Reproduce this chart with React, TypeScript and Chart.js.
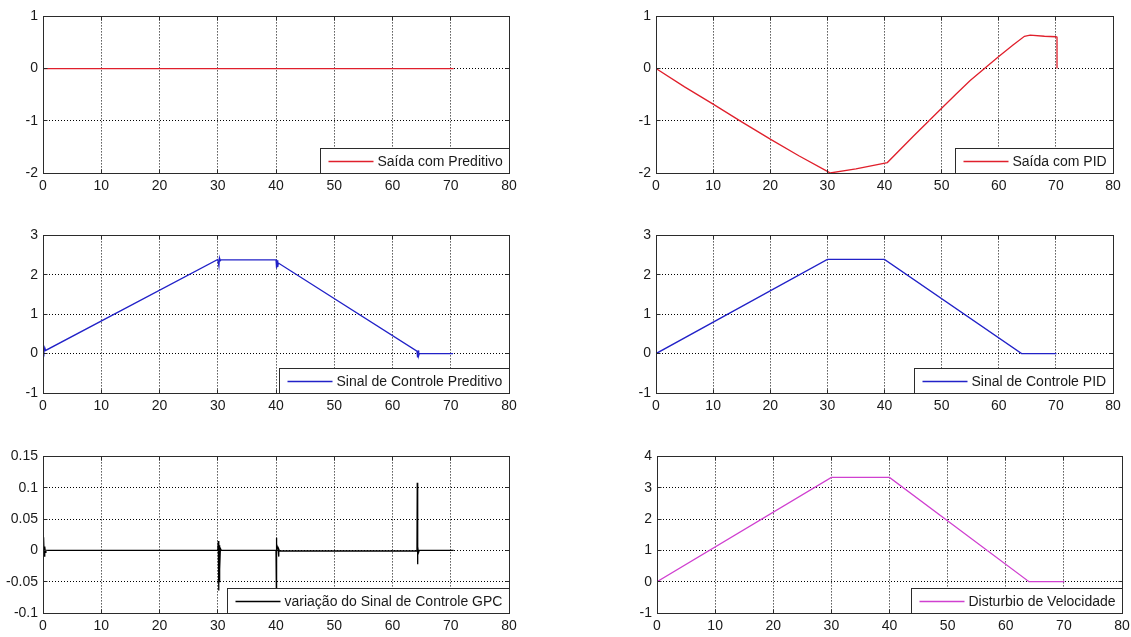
import React, { useEffect, useRef } from "react";
import { Chart, registerables } from "chart.js";

Chart.register(...registerables);

// ---------- tick labels ----------
const xTicks = [0, 10, 20, 30, 40, 50, 60, 70, 80];
const xTickLabels = ["0", "10", "20", "30", "40", "50", "60", "70", "80"];
const yTicksOut = [-2, -1, 0, 1];
const yTicksOutLabels = ["-2", "-1", "0", "1"];
const yTicksCtrl = [-1, 0, 1, 2, 3];
const yTicksCtrlLabels = ["-1", "0", "1", "2", "3"];
const yTicksGpc = [-0.1, -0.05, 0, 0.05, 0.1, 0.15];
const yTicksGpcLabels = ["-0.1", "-0.05", "0", "0.05", "0.1", "0.15"];
const yTicksDist = [-1, 0, 1, 2, 3, 4];
const yTicksDistLabels = ["-1", "0", "1", "2", "3", "4"];

// ---------- series ----------
const saidaPredT = [0, 70.5];
const saidaPredY = [0, 0];

const saidaPidT = [0, 5, 10, 15, 20, 25, 30, 30.5, 35, 40.5, 45, 50, 52.5, 55, 57.5, 60, 62.5, 64.5, 65.5, 68, 70, 70.2, 70.2];
const saidaPidY = [0, -0.35, -0.68, -1.02, -1.35, -1.67, -1.97, -2.0, -1.92, -1.8, -1.3, -0.76, -0.49, -0.23, 0.0, 0.23, 0.45, 0.62, 0.64, 0.62, 0.61, 0.6, 0];

const ctrlPredT = [0, 0.15, 0.3, 0.45, 30, 30.2, 30.3, 30.45, 30.6, 40, 40.1, 40.2, 40.3, 40.4, 64.2, 64.3, 64.4, 64.5, 64.6, 70.4];
const ctrlPredY = [0.1, 0.02, 0.15, 0.08, 2.39, 2.22, 2.43, 2.36, 2.38, 2.38, 2.17, 2.37, 2.2, 2.3, 0.06, -0.1, 0.08, -0.05, 0, 0];

const ctrlPidT = [0, 30, 40, 64, 70.1];
const ctrlPidY = [0, 2.39, 2.39, 0, 0];

const gpcT = [0, 0.1, 0.2, 0.3, 0.4, 0.5, 30, 30.1, 30.15, 30.2, 30.25, 30.3, 30.35, 30.45, 30.6, 40, 40.05, 40.1, 40.15, 40.4, 40.45, 40.5, 40.6, 64.2, 64.25, 64.3, 64.35, 64.45, 64.6, 70.5];
const gpcY = [0, 0.021, -0.009, 0.006, -0.003, 0, 0, 0.015, -0.064, 0.012, -0.05, 0.008, -0.03, 0.003, 0, 0, 0.02, -0.105, 0.01, 0, -0.01, 0.002, -0.001, -0.001, 0.108, -0.022, 0.006, -0.004, 0, 0];

const distT = [0, 30, 40, 64, 70.1];
const distY = [0, 3.33, 3.33, 0, 0];

// ---------- panels (layout) ----------
const FONT = '"Liberation Sans", Arial, Helvetica, sans-serif';
const Y_AXIS_W = 43;
const X_AXIS_H = 28;
const PAD_TOP = 12;
const PAD_RIGHT = 20;

const panels = [
  { L: 43, T: 15, R: 509, B: 173, t: saidaPredT, y: saidaPredY, color: "#e0202c", label: "Saída com Preditivo", yMin: -2, yMax: 1, yt: yTicksOut, ytl: yTicksOutLabels },
  { L: 656, T: 15, R: 1113, B: 173, t: saidaPidT, y: saidaPidY, color: "#e0202c", label: "Saída com PID", yMin: -2, yMax: 1, yt: yTicksOut, ytl: yTicksOutLabels },
  { L: 43, T: 234, R: 509, B: 393, t: ctrlPredT, y: ctrlPredY, color: "#2222c8", label: "Sinal de Controle Preditivo", yMin: -1, yMax: 3, yt: yTicksCtrl, ytl: yTicksCtrlLabels },
  { L: 656, T: 234, R: 1113, B: 393, t: ctrlPidT, y: ctrlPidY, color: "#2222c8", label: "Sinal de Controle PID", yMin: -1, yMax: 3, yt: yTicksCtrl, ytl: yTicksCtrlLabels },
  { L: 43, T: 455, R: 509, B: 613, t: gpcT, y: gpcY, color: "#000000", label: "variação do Sinal de Controle GPC", yMin: -0.1, yMax: 0.15, yt: yTicksGpc, ytl: yTicksGpcLabels },
  { L: 657, T: 455, R: 1122, B: 613, t: distT, y: distY, color: "#d040d0", label: "Disturbio de Velocidade", yMin: -1, yMax: 4, yt: yTicksDist, ytl: yTicksDistLabels },
];

const align = (p: number) => Math.round(p - 0.5) + 0.5;

const boxPlugin = {
  id: "boxLegend",
  afterDraw(chart: any, _args: any, opts: any) {
    const { ctx, chartArea: a } = chart;
    const xs = chart.scales.x;
    const ys = chart.scales.y;
    const l = align(a.left), t = align(a.top), r = align(a.right), b = align(a.bottom);
    ctx.save();
    ctx.setLineDash([]);
    ctx.strokeStyle = "#2b2b2b";
    ctx.lineWidth = 1;
    ctx.strokeRect(l, t, r - l, b - t);
    // inward tick marks
    const tl = 4;
    ctx.beginPath();
    xs.ticks.forEach((tk: any) => {
      const px = align(xs.getPixelForValue(tk.value));
      ctx.moveTo(px, b); ctx.lineTo(px, b - tl);
      ctx.moveTo(px, t); ctx.lineTo(px, t + tl);
    });
    ys.ticks.forEach((tk: any) => {
      const py = align(ys.getPixelForValue(tk.value));
      ctx.moveTo(l, py); ctx.lineTo(l + tl, py);
      ctx.moveTo(r, py); ctx.lineTo(r - tl, py);
    });
    ctx.stroke();
    // legend box in bottom-right corner
    ctx.font = "14px " + FONT;
    const tw = ctx.measureText(opts.text).width;
    const bw = Math.round(57 + tw + 7);
    const bh = 25;
    const bx = r - bw;
    const by = b - bh;
    ctx.fillStyle = "#ffffff";
    ctx.fillRect(bx, by, bw, bh);
    ctx.strokeRect(bx, by, bw, bh);
    const my = Math.round(by + bh / 2) + 0.5;
    ctx.strokeStyle = opts.color;
    ctx.lineWidth = 1.3;
    ctx.beginPath();
    ctx.moveTo(bx + 8, my);
    ctx.lineTo(bx + 53, my);
    ctx.stroke();
    ctx.fillStyle = "#1a1a1a";
    ctx.textBaseline = "middle";
    ctx.textAlign = "left";
    ctx.fillText(opts.text, bx + 57, by + bh / 2 + 1);
    ctx.restore();
  },
};

function makeConfig(p: any): any {
  const tickFont = { family: FONT, size: 14 };
  return {
    type: "line",
    data: {
      datasets: [
        {
          data: p.t.map((x: number, i: number) => ({ x, y: p.y[i] })),
          borderColor: p.color,
          borderWidth: 1.3,
          pointRadius: 0,
          tension: 0,
          fill: false,
        },
      ],
    },
    options: {
      animation: false,
      responsive: false,
      devicePixelRatio: 1,
      events: [],
      layout: { padding: { left: 0, top: PAD_TOP, right: PAD_RIGHT, bottom: 0 } },
      plugins: {
        legend: { display: false },
        tooltip: { enabled: false },
        boxLegend: { text: p.label, color: p.color },
      },
      scales: {
        x: {
          type: "linear",
          min: 0,
          max: 80,
          afterBuildTicks: (s: any) => {
            s.ticks = xTicks.map((v) => ({ value: v }));
          },
          afterFit: (s: any) => {
            s.height = X_AXIS_H;
          },
          ticks: {
            callback: (_v: any, i: number) => xTickLabels[i],
            font: tickFont,
            color: "#1a1a1a",
            padding: 5,
            maxRotation: 0,
            autoSkip: false,
          },
          grid: { color: "#000000", lineWidth: 1, drawTicks: false },
          border: { display: false, dash: [1, 2] },
        },
        y: {
          type: "linear",
          min: p.yMin,
          max: p.yMax,
          afterBuildTicks: (s: any) => {
            s.ticks = p.yt.map((v: number) => ({ value: v }));
          },
          afterFit: (s: any) => {
            s.width = Y_AXIS_W;
          },
          ticks: {
            callback: (_v: any, i: number) => p.ytl[i],
            font: tickFont,
            color: "#1a1a1a",
            padding: 5,
            autoSkip: false,
          },
          grid: { color: "#000000", lineWidth: 1, drawTicks: false },
          border: { display: false, dash: [1, 2] },
        },
      },
    },
    plugins: [boxPlugin],
  };
}

function Panel({ p }: { p: any }) {
  const ref = useRef<HTMLCanvasElement | null>(null);
  const w = p.R - p.L + Y_AXIS_W + PAD_RIGHT;
  const h = p.B - p.T + PAD_TOP + X_AXIS_H;
  useEffect(() => {
    if (!ref.current) return;
    const chart = new Chart(ref.current, makeConfig(p));
    return () => chart.destroy();
  }, [p]);
  return (
    <canvas
      ref={ref}
      width={w}
      height={h}
      style={{ position: "absolute", left: p.L - Y_AXIS_W, top: p.T - PAD_TOP, width: w, height: h }}
    />
  );
}

export default function App() {
  return (
    <div style={{ position: "absolute", left: 0, top: 0, width: 1131, height: 637, background: "#ffffff", overflow: "hidden" }}>
      {panels.map((p, i) => (
        <Panel key={i} p={p} />
      ))}
    </div>
  );
}
